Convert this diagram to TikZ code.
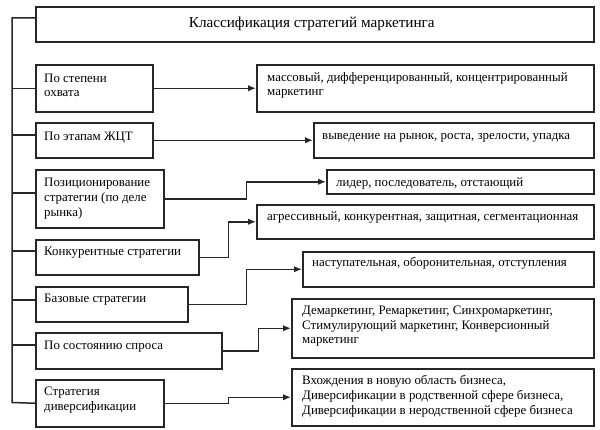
\documentclass[tikz,border=0pt]{standalone}
\usepackage{fontspec}
\setmainfont{Liberation Serif}
\usetikzlibrary{arrows.meta}
\tikzset{
  line/.style={draw=black!85, line width=1.5pt},
  frame/.style={line, rectangle, inner sep=0pt, anchor=north west},
  txt/.style={anchor=west, align=left, inner sep=0pt, font=\fontsize{12.9}{14.7}\selectfont},
  conn/.style={line, -{Latex[length=8pt,width=6.5pt]}},
}
% name, x1, y1, x2, y2, pad, lift, text
\newcommand\mybox[8]{%
  \pgfmathsetmacro\mybw{#4-#2}\pgfmathsetmacro\mybh{#5-#3}%
  \node[frame, minimum width=\mybw pt, minimum height=\mybh pt] (#1) at (#2,#3) {};
  \node[txt] (#1t) at ([xshift=#6pt, yshift=#7pt]#1.west) {#8};
}
\begin{document}
\begin{tikzpicture}[x=1pt, y=-1pt]
\useasboundingbox[fill=white] (0,0) rectangle (600,429);
% title
\node[frame, minimum width=558pt, minimum height=35pt] (t) at (35,6) {};
\node[font=\fontsize{15.2}{18}\selectfont, inner sep=0pt] (tt) at ([xshift=-3pt]t.center) {Классификация стратегий маркетинга};
% left boxes
\mybox{b1}{35}{64}{152}{111}{9}{3}{По степени\\охвата}
\mybox{b2}{35}{122}{152}{157}{9}{2.5}{По этапам ЖЦТ}
\mybox{b3}{35}{169}{163}{227}{9}{0}{Позиционирование\\стратегии (по деле\\рынка)}
\mybox{b4}{35}{239}{198}{274}{9}{4.5}{Конкурентные стратегии}
\mybox{b5}{35}{286}{187}{321}{9}{4.5}{Базовые стратегии}
\mybox{b6}{35}{332}{221}{368}{9}{4}{По состоянию спроса}
\mybox{b7}{35}{379}{163}{426}{9}{3}{Стратегия\\диверсификации}
% right boxes
\mybox{r1}{256}{64}{593}{111}{11}{3}{массовый, дифференцированный, концентрированный\\маркетинг}
\mybox{r2}{313}{122}{593}{157}{9}{2.5}{выведение на рынок, роста, зрелости, упадка}
\mybox{r3}{326}{169}{593}{193}{10}{-2}{лидер, последователь, отстающий}
\mybox{r4}{256}{204}{593}{238}{11}{4}{агрессивный, конкурентная, защитная, сегментационная}
\mybox{r5}{302}{251}{593}{286}{10}{5.5}{наступательная, оборонительная, отступления}
\mybox{r6}{291}{298}{593}{357}{11}{2}{Демаркетинг, Ремаркетинг, Синхромаркетинг,\\Стимулирующий маркетинг, Конверсионный\\маркетинг}
\mybox{r7}{291}{368}{593}{425}{11}{1}{Вхождения в новую область бизнеса,\\Диверсификации в родственной сфере бизнеса,\\Диверсификации в неродственной сфере бизнеса}
% left bus
\coordinate (busBot) at (12,402.5);
\draw[line] ([yshift=6.5pt]t.west) -| (busBot) -- (b7.west);
\draw[line] (b1.west) -- ++(-23,0);
\draw[line] ([yshift=5.5pt]b2.west) -- ++(-23,0);
\draw[line] ([yshift=6pt]b3.west) -- ++(-23,0);
\draw[line] ([yshift=6.5pt]b4.west) -- ++(-23,0);
\draw[line] ([yshift=4.5pt]b5.west) -- ++(-23,0);
\draw[line] ([yshift=6pt]b6.west) -- ++(-23,0);
% connectors
\draw[conn] (b1.east) -- (r1.west);
\draw[conn] (b2.east) -- (r2.west);
\draw[conn] (b3.east) -- ++(82,0) |- (r3.west);
\draw[conn] (b4.east) -- ++(29,0) |- (r4.west);
\draw[conn] (b5.east) -- ++(58,0) |- (r5.west);
\draw[conn] (b6.east) -- ++(36,0) |- (r6.west);
\draw[conn] (b7.east) -- ++(64,0) |- (r7.west);
\end{tikzpicture}
\end{document}
